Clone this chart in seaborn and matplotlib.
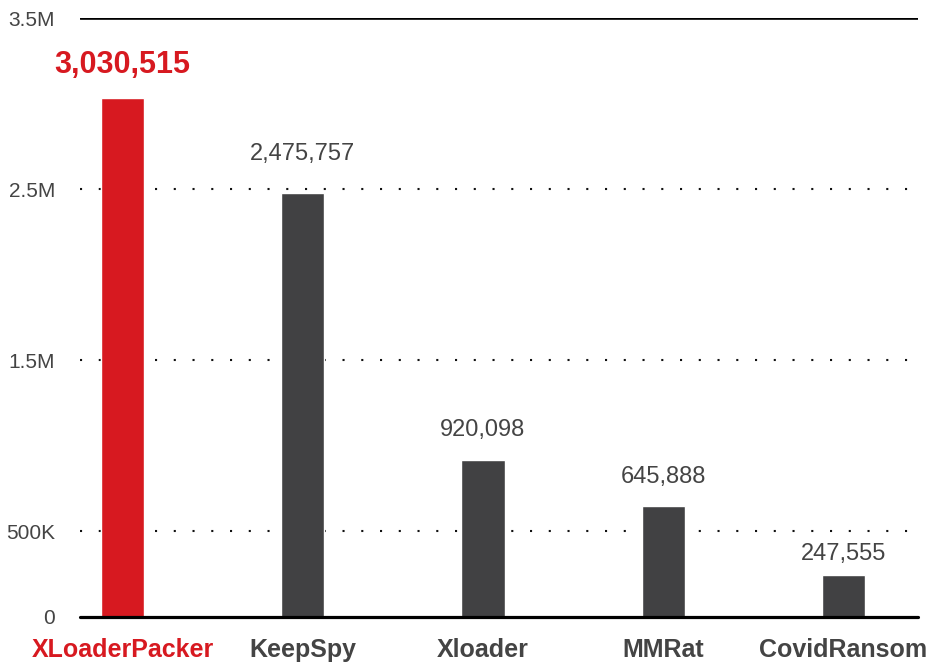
import matplotlib
matplotlib.use("Agg")
import matplotlib.pyplot as plt
import seaborn as sns
import pandas as pd

# Detection counts per malware family
families = ["XLoaderPacker", "KeepSpy", "Xloader", "MMRat", "CovidRansom"]
detections = [3030515, 2475757, 920098, 645888, 247555]
tick_values = [0, 500000, 1500000, 2500000, 3500000]
tick_labels = ["0", "500K", "1.5M", "2.5M", "3.5M"]

RED = "#D71920"
GRAY = "#414143"
TEXT = "#444444"
colors = [RED] + [GRAY] * (len(families) - 1)

sns.set_theme(style="white")
plt.rcParams["font.family"] = ["Liberation Sans", "DejaVu Sans"]

df = pd.DataFrame({"family": families, "detections": detections})

fig = plt.figure(figsize=(9.3, 6.64), dpi=100)
ax = fig.add_axes([80 / 930, 47 / 664, 838 / 930, 599 / 664])

# dotted guides at the intermediate ticks, solid rules at top and baseline
for v in tick_values[1:-1]:
    ax.axhline(v, color="#111111", lw=1.5, linestyle=(0, (1, 8)), zorder=0)
ax.axhline(tick_values[-1], color="black", lw=1.9, zorder=3)

sns.barplot(data=df, x="family", y="detections", hue="family",
            palette=colors, width=0.24, legend=False, ax=ax,
            saturation=1, zorder=2)
ax.axhline(0, color="black", lw=2.3, zorder=4, clip_on=False)

ax.set_ylim(0, tick_values[-1])
ax.set_xlim(-0.236, 4.414)
ax.set_yticks(tick_values)
ax.set_yticklabels(tick_labels)
ax.tick_params(axis="y", length=0, pad=18, labelsize=15, labelcolor=TEXT)
ax.tick_params(axis="x", length=0, pad=15, labelsize=18)
for lbl, c in zip(ax.get_xticklabels(), [RED] + [TEXT] * 4):
    lbl.set_color(c)
    lbl.set_fontweight("bold")
ax.set_xlabel("")
ax.set_ylabel("")
for s in ax.spines.values():
    s.set_visible(False)

# value labels above each bar
label_gap = [33, 39, 30, 29, 21]
for i, v in enumerate(detections):
    first = i == 0
    ax.annotate(f"{v:,}", (i, v), xytext=(0, label_gap[i]),
                textcoords="offset pixels", ha="center", va="center",
                fontsize=22 if first else 17,
                fontweight="bold" if first else "normal",
                color=RED if first else TEXT)

fig.savefig("out.png", dpi=100)
